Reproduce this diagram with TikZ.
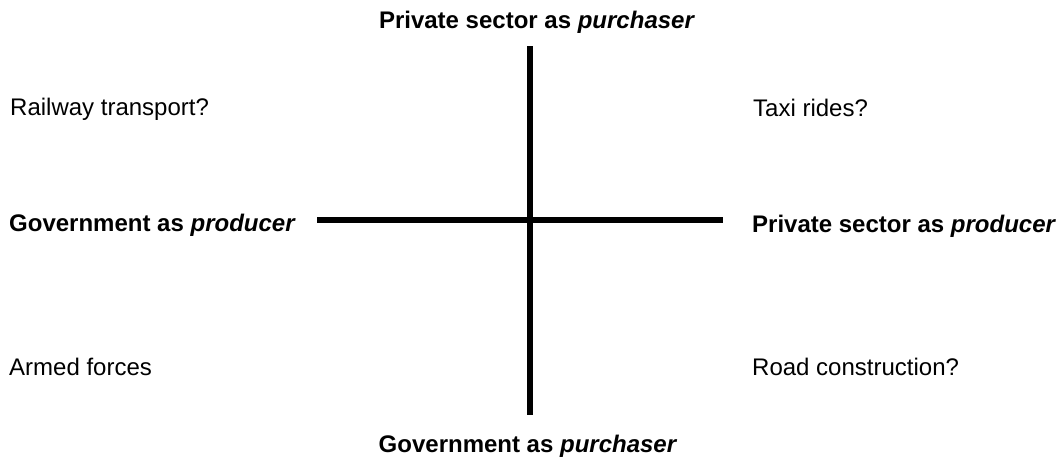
\documentclass[tikz,border=0pt]{standalone}
\usepackage{fontspec}
\setmainfont{Liberation Sans}
\begin{document}
\begin{tikzpicture}[x=1pt,y=-1pt,
  lbl/.style={inner sep=0pt,anchor=base west,font=\fontsize{24}{28}\selectfont},
  axlbl/.style={lbl,font=\fontsize{24}{28}\selectfont\bfseries},
  axis/.style={line width=6pt,black}]
  \useasboundingbox (0,0) rectangle (1059,467);
  % axis end points
  \coordinate (vt) at (530,46);
  \coordinate (vb) at (530,415);
  \coordinate (hl) at (317,220);
  \coordinate (hr) at (723,220);
  \draw[axis] (vt) -- (vb);
  \draw[axis] (hl) -- (hr);
  % axis labels
  \node[axlbl,anchor=base] (top) at (537,28) {Private sector as \textit{purchaser}};
  \node[axlbl,anchor=base] (bot) at (528,452) {Government as \textit{purchaser}};
  \node[axlbl] (left) at (9,231) {Government as \textit{producer}};
  \node[axlbl] (right) at (752,232) {Private sector as \textit{producer}};
  % quadrant examples
  \node[lbl] (q1) at (10,115) {Railway transport?};
  \node[lbl] (q2) at (753,116) {Taxi rides?};
  \node[lbl] (q3) at (9,375) {Armed forces};
  \node[lbl] (q4) at (752,375) {Road construction?};
\end{tikzpicture}
\end{document}
